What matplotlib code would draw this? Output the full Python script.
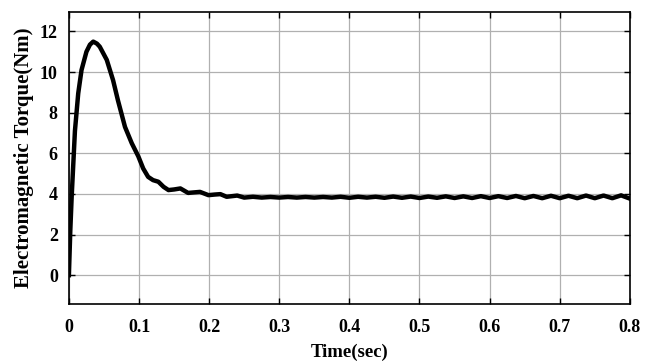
import numpy as np
import matplotlib
matplotlib.use('Agg')
import matplotlib.pyplot as plt

# transient part
tTransient = [0.0, 0.002, 0.004, 0.0086, 0.0133, 0.018, 0.025, 0.030, 0.0347, 0.040,
              0.044, 0.054, 0.063, 0.070, 0.080, 0.0896, 0.099, 0.106, 0.113, 0.120,
              0.1276, 0.135, 0.142, 0.150, 0.159, 0.165, 0.170, 0.180, 0.187, 0.199,
              0.208, 0.216, 0.225, 0.240]
vTransient = [0.0, 2.2, 3.9, 7.1, 8.95, 10.1, 11.0, 11.35, 11.5, 11.4,
              11.25, 10.6, 9.6, 8.6, 7.3, 6.5, 5.85, 5.25, 4.84, 4.68,
              4.6, 4.35, 4.19, 4.22, 4.27, 4.15, 4.05, 4.08, 4.1, 3.94,
              3.97, 3.99, 3.86, 3.92]

# steady state with ripple
tSteady = [0.2500, 0.2625, 0.2750, 0.2875, 0.3000, 0.3125, 0.3250, 0.3375, 0.3500,
           0.3625, 0.3750, 0.3875, 0.4000, 0.4125, 0.4250, 0.4375, 0.4500, 0.4625,
           0.4750, 0.4875, 0.5000, 0.5125, 0.5250, 0.5375, 0.5500, 0.5625, 0.5750,
           0.5875, 0.6000, 0.6125, 0.6250, 0.6375, 0.6500, 0.6625, 0.6750, 0.6875,
           0.7000, 0.7125, 0.7250, 0.7375, 0.7500, 0.7625, 0.7750, 0.7875, 0.8000]
vSteady = [3.82, 3.86, 3.82, 3.85, 3.82, 3.85, 3.82, 3.85, 3.82,
           3.85, 3.82, 3.86, 3.81, 3.86, 3.82, 3.86, 3.81, 3.87,
           3.81, 3.87, 3.80, 3.87, 3.81, 3.88, 3.80, 3.88, 3.80,
           3.89, 3.80, 3.89, 3.80, 3.90, 3.79, 3.90, 3.79, 3.91,
           3.79, 3.91, 3.79, 3.92, 3.79, 3.92, 3.79, 3.93, 3.77]

t = np.array(tTransient + tSteady)
torque = np.array(vTransient + vSteady)

xTicks = [0, 0.1, 0.2, 0.3, 0.4, 0.5, 0.6, 0.7, 0.8]
xTickLabels = ['0', '0.1', '0.2', '0.3', '0.4', '0.5', '0.6', '0.7', '0.8']
yTicks = [0, 2, 4, 6, 8, 10, 12]

plt.rcParams['font.family'] = ['Liberation Serif', 'DejaVu Serif']
plt.rcParams['font.weight'] = 'bold'

fig = plt.figure(figsize=(6.5, 3.63), dpi=100)
ax = fig.add_axes([0.106, 0.1625, 0.863, 0.804])
ax.plot(t, torque, color='black', linewidth=3.2, solid_joinstyle='round')

ax.set_xlim(0, 0.8)
ax.set_ylim(-1.42, 12.95)
ax.set_xticks(xTicks)
ax.set_xticklabels(xTickLabels)
ax.set_yticks(yTicks)
ax.grid(True, color='#b0b0b0', linewidth=0.9)
ax.tick_params(direction='in', top=True, right=True, length=4, width=1,
               labelsize=13)
ax.tick_params(axis='x', pad=11)
ax.tick_params(axis='y', pad=8)
for spine in ax.spines.values():
    spine.set_linewidth(1.2)

ax.set_xlabel('Time(sec)', fontsize=13.5, fontweight='bold', labelpad=5)
ax.set_ylabel('Electromagnetic Torque(Nm)', fontsize=15, fontweight='bold', labelpad=4)

fig.savefig('out.png', dpi=100)
